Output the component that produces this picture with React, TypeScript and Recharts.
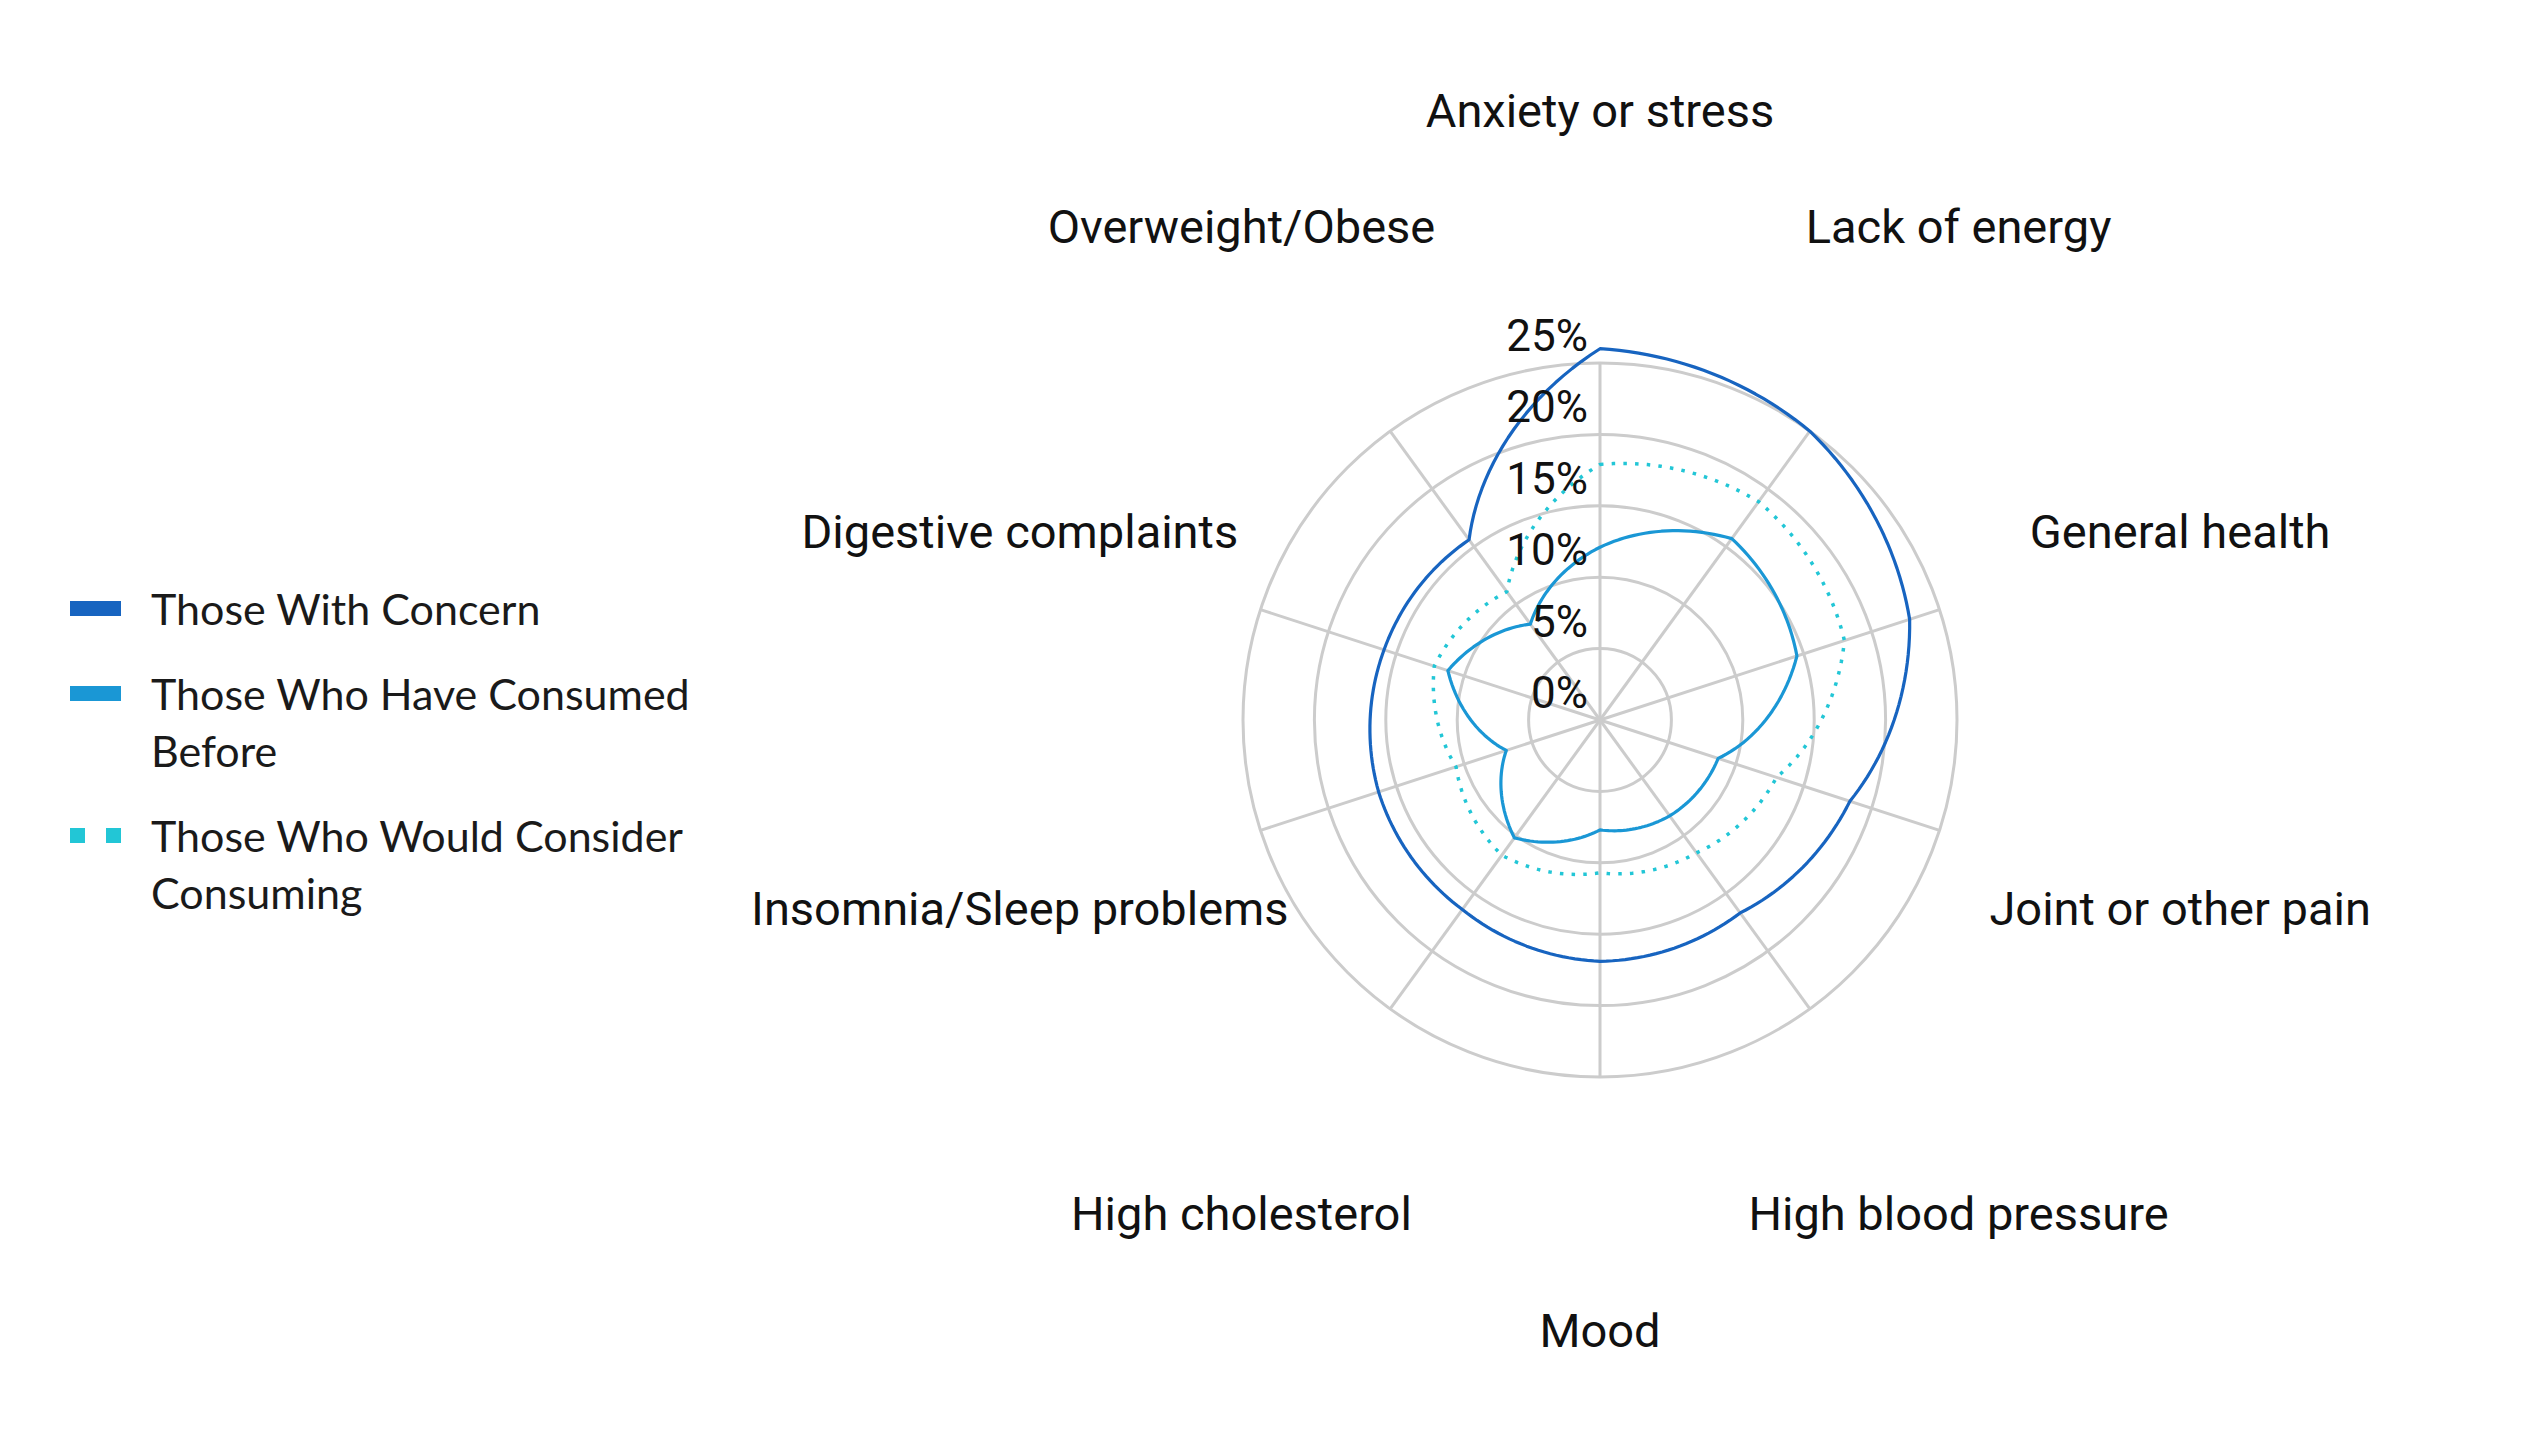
import React from 'react';
import {
  Legend,
  PolarAngleAxis,
  PolarGrid,
  PolarRadiusAxis,
  Radar,
  RadarChart
} from 'recharts';

const categories = [
  'Anxiety or stress',
  'Lack of energy',
  'General health',
  'Joint or other pain',
  'High blood pressure',
  'Mood',
  'High cholesterol',
  'Insomnia/Sleep problems',
  'Digestive complaints',
  'Overweight/Obese'
];

const withConcern = [26.0, 25.0, 22.8, 18.4, 16.7, 16.9, 16.4, 16.3, 15.9, 15.6];
const consumedBefore = [12.1, 15.7, 14.5, 8.7, 8.3, 7.7, 10.2, 6.9, 11.2, 8.3];
const wouldConsider = [17.9, 18.9, 18.0, 13.0, 11.5, 10.7, 11.7, 10.6, 12.2, 11.1];

const radiusTicks = [0, 5, 10, 15, 20, 25];

const series = [
  { key: 'concern', name: 'Those With Concern', color: '#1764C0', dotted: false },
  { key: 'consumed', name: 'Those Who Have Consumed Before', color: '#1A97D5', dotted: false },
  { key: 'consider', name: 'Those Who Would Consider Consuming', color: '#22C6D6', dotted: true }
];

const data = categories.map((name, i) => ({
  name,
  concern: withConcern[i],
  consumed: consumedBefore[i],
  consider: wouldConsider[i]
}));

const CX = 1592;
const CY = 712;
const LABEL_R = 610;
const RAD = Math.PI / 180;

// lines between categories follow the polar grid (radius changes with angle)
function PolarLine(props: any) {
  const { points, stroke, strokeWidth, strokeDasharray } = props;
  if (!points || !points.length) return null;
  const n = points.length;
  let d = '';
  for (let i = 0; i < n; i++) {
    const p = points[i];
    const q = points[(i + 1) % n];
    let delta = q.angle - p.angle;
    while (delta > 180) delta -= 360;
    while (delta <= -180) delta += 360;
    const steps = 24;
    for (let s = 0; s <= steps; s++) {
      if (i > 0 && s === 0) continue;
      const t = s / steps;
      const r = p.radius + (q.radius - p.radius) * t;
      const a = p.angle + delta * t;
      const x = p.cx + r * Math.cos(-a * RAD);
      const y = p.cy + r * Math.sin(-a * RAD);
      d += `${i === 0 && s === 0 ? 'M' : 'L'}${x.toFixed(2)},${y.toFixed(2)}`;
    }
  }
  d += 'Z';
  return (
    <path
      d={d}
      fill="none"
      stroke={stroke}
      strokeWidth={strokeWidth}
      strokeDasharray={strokeDasharray}
      strokeLinejoin="round"
    />
  );
}

function AngleTick(props: any) {
  const { x, y, payload } = props;
  const cx = props.cx ?? CX;
  const cy = props.cy ?? CY;
  const dx = x - cx;
  const dy = y - cy;
  const len = Math.hypot(dx, dy) || 1;
  return (
    <text
      x={cx + (dx / len) * LABEL_R}
      y={cy + (dy / len) * LABEL_R}
      textAnchor="middle"
      dominantBaseline="central"
      fontFamily="Roboto"
      fontSize={47}
      fill="#111"
    >
      {payload.value}
    </text>
  );
}

function RadiusTick(props: any) {
  const { x, y, payload } = props;
  return (
    <text
      x={x - 12}
      y={y - 27}
      textAnchor="end"
      dominantBaseline="central"
      fontFamily="Roboto"
      fontSize={44}
      fill="#111"
    >
      {`${payload.value}%`}
    </text>
  );
}

function LegendMarker({ color, dotted }: { color: string; dotted: boolean }) {
  return (
    <svg width={81} height={16} style={{ flex: 'none', marginTop: 21 }}>
      {dotted ? (
        <>
          <rect x={0} y={0} width={15} height={15} fill={color} />
          <rect x={36} y={0} width={15} height={15} fill={color} />
        </>
      ) : (
        <rect x={0} y={0} width={51} height={15} fill={color} />
      )}
    </svg>
  );
}

// keep the series order (the default legend sorts by name)
function renderLegend() {
  return (
    <div>
      {series.map((s) => (
        <div key={s.key} style={{ display: 'flex', alignItems: 'flex-start', marginBottom: 28 }}>
          <LegendMarker color={s.color} dotted={s.dotted} />
          <div
            style={{
              width: 560,
              fontFamily: 'Lato',
              fontSize: 43,
              lineHeight: '57px',
              color: '#1a1a1a'
            }}
          >
            {s.name}
          </div>
        </div>
      ))}
    </div>
  );
}

export default function App() {
  return (
    <div style={{ width: 2526, height: 1420, background: '#fff' }}>
      <RadarChart
        width={2526}
        height={1420}
        data={data}
        cx={CX}
        cy={CY}
        outerRadius={357}
        margin={{ top: 0, right: 0, bottom: 0, left: 0 }}
      >
        <PolarGrid gridType="circle" stroke="#CCCCCC" strokeWidth={3} />
        <PolarAngleAxis dataKey="name" tick={AngleTick} axisLine={false} tickLine={false} />
        <PolarRadiusAxis
          angle={90}
          domain={[0, 25]}
          ticks={radiusTicks}
          allowDataOverflow
          axisLine={false}
          tickLine={false}
          tick={RadiusTick}
        />
        {series.map((s) => (
          <Radar
            key={s.key}
            dataKey={s.key}
            name={s.name}
            stroke={s.color}
            strokeWidth={s.dotted ? 3.5 : 3.2}
            strokeDasharray={s.dotted ? '3.5 8.2' : undefined}
            fill="none"
            dot={false}
            shape={PolarLine}
            isAnimationActive={false}
          />
        ))}
        <Legend
          layout="vertical"
          align="center"
          verticalAlign="middle"
          content={renderLegend}
          wrapperStyle={{ position: 'absolute', left: 62, top: 572, width: 700 }}
        />
      </RadarChart>
    </div>
  );
}
